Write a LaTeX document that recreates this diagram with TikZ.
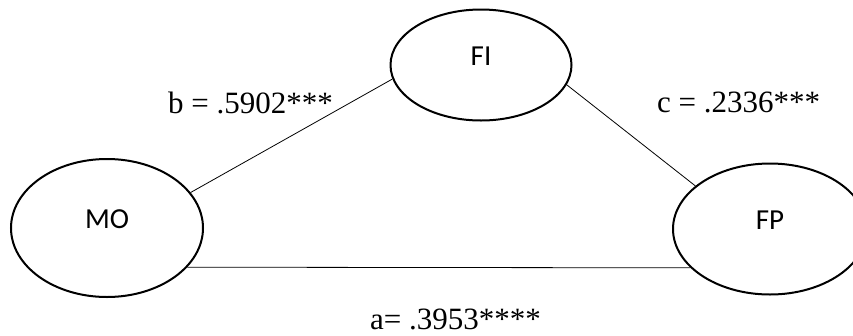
\documentclass[tikz,border=0pt]{standalone}
\usepackage{fontspec}
\setmainfont{Liberation Serif}
\newfontfamily\constructfont{Carlito}
\usetikzlibrary{shapes.geometric}
\tikzset{
    construct/.style={
        ellipse,
        draw=black,
        fill=white,
        line width=2pt,
        inner sep=0pt,
        minimum width=192pt,
        minimum height=138pt,
        text depth=18pt,
        font=\constructfont\fontsize{29}{29}\selectfont
    },
    constructpath/.style={
        draw=black,
        line width=0.8pt
    },
    coefficient/.style={
        inner sep=0pt,
        anchor=base west,
        font=\fontsize{31}{31}\selectfont
    }
}

\begin{document}
\begin{tikzpicture}[x=1pt,y=-1pt]
    \useasboundingbox (0,0) rectangle (853,335);

    \node[construct] (mo) at (107,228) {MO};
    \node[construct,minimum width=181pt,minimum height=111pt] (fi) at (481,65) {FI};
    \node[construct,minimum width=194pt,minimum height=131pt] (fp) at (770,229) {FP};

    \draw[constructpath] (mo.23) -- (fi.189);
    \draw[constructpath] (fi.-13) -- (fp.150);
    \draw[constructpath] (mo.-26) -- (fp.206);

    \node[coefficient] (bcoef) at (168,113) {b = .5902***};
    \node[coefficient] (ccoef) at (657,112) {c = .2336***};
    \node[coefficient] (acoef) at (370,329) {a= .3953****};
\end{tikzpicture}
\end{document}
